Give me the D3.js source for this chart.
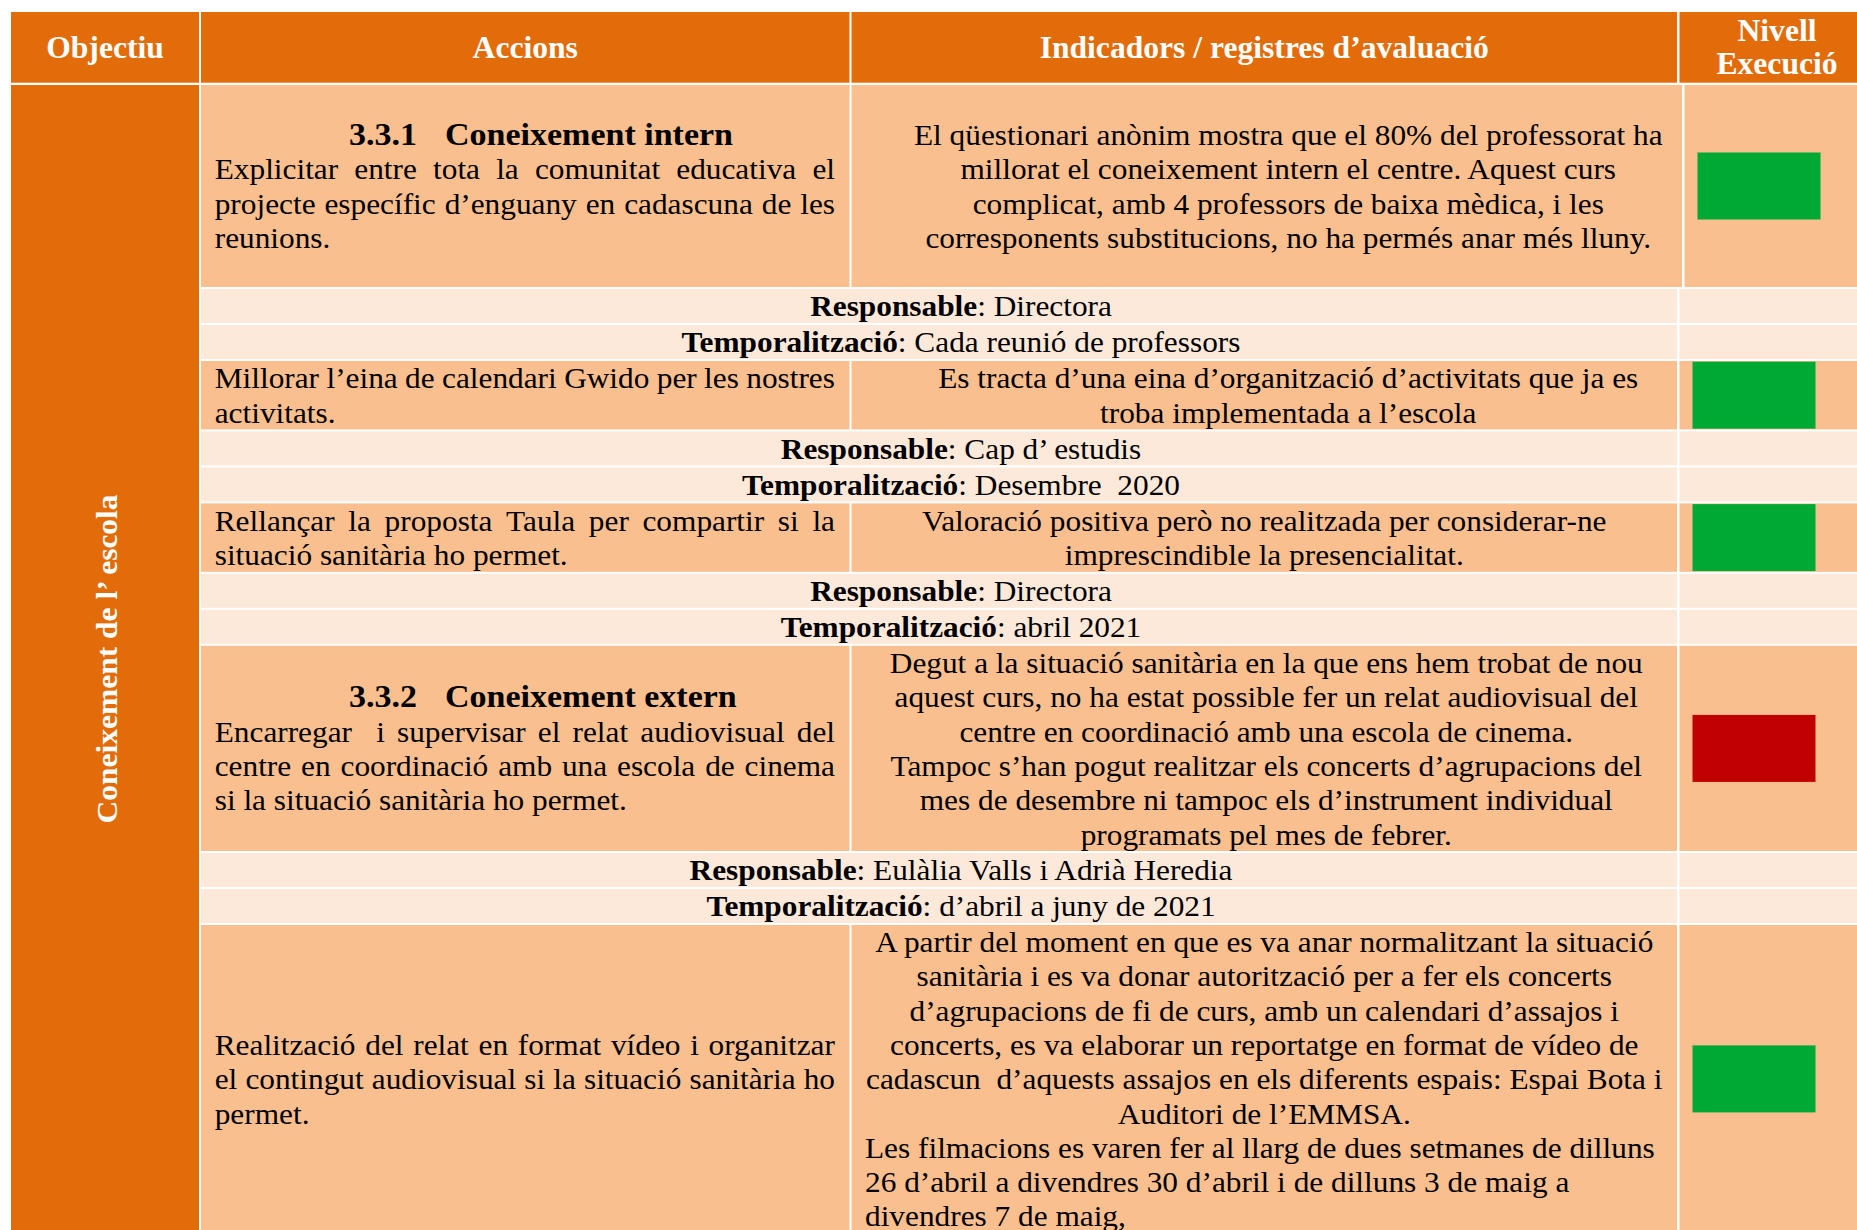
<!DOCTYPE html>
<html><head><meta charset="utf-8">
<script src="https://cdn.jsdelivr.net/npm/d3@7"></script>
<style>html,body{margin:0;padding:0;background:#fff;overflow:hidden}</style>
</head><body>
<svg id="c" width="1857" height="1230"></svg>
<script>
// ---------- DATA ----------
const headers = ["Objectiu", "Accions", "Indicadors / registres d’avaluació"];
const levelHeader = ["Nivell", "Execució"];
const objective = "Coneixement de l’ escola";
const actionNumbers = ["3.3.1", "", "", "3.3.2", ""];
const actionTitles = ["Coneixement intern", "", "", "Coneixement extern", ""];
const actionLines = [
  ["Explicitar entre tota la comunitat educativa el", "projecte específic d’enguany en cadascuna de les", "reunions."],
  ["Millorar l’eina de calendari Gwido per les nostres", "activitats."],
  ["Rellançar la proposta Taula per compartir si la", "situació sanitària ho permet."],
  ["Encarregar  i supervisar el relat audiovisual del", "centre en coordinació amb una escola de cinema", "si la situació sanitària ho permet."],
  ["Realització del relat en format vídeo i organitzar", "el contingut audiovisual si la situació sanitària ho", "permet."]
];
const indicatorLines = [
  ["El qüestionari anònim mostra que el 80% del professorat ha", "millorat el coneixement intern el centre. Aquest curs", "complicat, amb 4 professors de baixa mèdica, i les", "corresponents substitucions, no ha permés anar més lluny."],
  ["Es tracta d’una eina d’organització d’activitats que ja es", "troba implementada a l’escola"],
  ["Valoració positiva però no realitzada per considerar-ne", "imprescindible la presencialitat."],
  ["Degut a la situació sanitària en la que ens hem trobat de nou", "aquest curs, no ha estat possible fer un relat audiovisual del", "centre en coordinació amb una escola de cinema.", "Tampoc s’han pogut realitzar els concerts d’agrupacions del", "mes de desembre ni tampoc els d’instrument individual", "programats pel mes de febrer."],
  ["A partir del moment en que es va anar normalitzant la situació", "sanitària i es va donar autorització per a fer els concerts", "d’agrupacions de fi de curs, amb un calendari d’assajos i", "concerts, es va elaborar un reportatge en format de vídeo de", "cadascun  d’aquests assajos en els diferents espais: Espai Bota i", "Auditori de l’EMMSA."]
];
const indicatorLeftLines = [[], [], [], [], ["Les filmacions es varen fer al llarg de dues setmanes de dilluns", "26 d’abril a divendres 30 d’abril i de dilluns 3 de maig a", "divendres 7 de maig,"]];
const executionLevels = ["Assolit", "Assolit", "Assolit", "No assolit", "Assolit"];
const responsables = ["Directora", "Cap d’ estudis", "Directora", "Eulàlia Valls i Adrià Heredia", null];
const temporalitzacions = ["Cada reunió de professors", "Desembre  2020", "abril 2021", "d’abril a juny de 2021", null];

// ---------- LAYOUT ----------
const ORANGE = "#E36C0A", PEACH = "#F9BF8F", LIGHT = "#FCE9DA";
const levelColor = d3.scaleOrdinal().domain(["Assolit", "No assolit"]).range(["#00A933", "#C00000"]);
const FONT = "'Liberation Serif','Times New Roman',serif";
const FS = 29, K = 1.08, LH = 34.3, BASE = 27.5, GAP = 2;
const X0 = 11, C1R = 199, C2L = 201, C2R = 849.5, C3L = 851.5, C3R = 1677, C4L = 1679.5, XEND = 1876;
const headerTop = 12, headerBot = 82.7, bodyTop = 85;
const indicatorIndent = [24, 24, 0, 2, 0];
const rowShift = [5, 0, 0, 0, 0];

const svg = d3.select("#c");
svg.append("rect").attr("width", 1857).attr("height", 1230).attr("fill", "#fff");

function txt(g, str, x, y, opt = {}) {
  const t = g.append("text")
    .attr("transform", `translate(${x},${y}) scale(${opt.k || K},1)`)
    .attr("text-anchor", opt.anchor || "start")
    .attr("font-family", FONT)
    .attr("font-size", opt.size || FS)
    .attr("font-weight", opt.bold ? "bold" : "normal")
    .attr("fill", opt.fill || "#000")
    .style("white-space", "pre");
  if (Array.isArray(str)) {
    str.forEach(([s, b]) => t.append("tspan").attr("font-weight", b ? "bold" : "normal").text(s));
  } else t.text(str);
  return t;
}
function justify(g, str, x0, x1, y) {
  const words = str.split(" ");
  const tmp = g.append("text").attr("font-family", FONT).attr("font-size", FS);
  const widths = words.map(w => { if (!w) return 0; tmp.text(w); return tmp.node().getComputedTextLength() * K; });
  tmp.remove();
  const total = d3.sum(widths);
  const gap = (x1 - x0 - total) / (words.length - 1);
  let x = x0;
  words.forEach((w, i) => { if (w) txt(g, w, x, y); x += widths[i] + gap; });
}

// rows
const rows = [];
let y = bodyTop;
actionLines.forEach((lines, i) => {
  const hasHead = actionNumbers[i] !== "";
  const nAct = lines.length + (hasHead ? 1 : 0);
  const nInd = indicatorLines[i].length + indicatorLeftLines[i].length;
  const n = Math.max(nAct, nInd);
  const h = Math.max(n * 34.2, hasHead ? 202 : 0);
  rows.push({ type: "main", i, y0: y, h, nAct, nInd, hasHead });
  y += h + GAP;
  if (responsables[i]) {
    rows.push({ type: "resp", i, y0: y, h: 34 }); y += 34 + GAP;
    rows.push({ type: "temp", i, y0: y, h: 34 }); y += 34 + GAP;
  }
});
const bodyEnd = y - GAP;

// header
const hg = svg.append("g");
[[X0, C1R], [C2L, C2R], [C3L, C3R], [C4L, XEND]].forEach(([a, b]) =>
  hg.append("rect").attr("x", a).attr("y", headerTop).attr("width", b - a).attr("height", headerBot - headerTop).attr("fill", ORANGE));
const hk = 1.02, hs = 31;
txt(hg, headers[0], (X0 + C1R) / 2, 58.3, { anchor: "middle", bold: true, fill: "#fff", k: hk, size: hs });
txt(hg, headers[1], (C2L + C2R) / 2, 58.3, { anchor: "middle", bold: true, fill: "#fff", k: hk, size: hs });
txt(hg, headers[2], (C3L + C3R) / 2, 58.3, { anchor: "middle", bold: true, fill: "#fff", k: hk, size: hs });
levelHeader.forEach((s, j) => txt(hg, s, 1777, 40.7 + j * 33.3, { anchor: "middle", bold: true, fill: "#fff", k: hk, size: hs }));

// objective column
svg.append("rect").attr("x", X0).attr("y", bodyTop).attr("width", C1R - X0).attr("height", bodyEnd - bodyTop).attr("fill", ORANGE);
svg.append("text")
  .attr("transform", `translate(116.5,${(bodyTop + bodyEnd) / 2}) rotate(-90)`)
  .attr("text-anchor", "middle").attr("font-family", FONT).attr("font-size", 30).attr("font-weight", "bold")
  .attr("fill", "#fff").attr("textLength", 329).attr("lengthAdjust", "spacingAndGlyphs")
  .style("white-space", "pre").text(objective);

const bg = svg.append("g");
const tg = svg.append("g");
rows.forEach(r => {
  if (r.type === "main") {
    const c3r = C3R + rowShift[r.i], c4l = C4L + rowShift[r.i];
    bg.append("rect").attr("x", C2L).attr("y", r.y0).attr("width", C2R - C2L).attr("height", r.h).attr("fill", PEACH);
    bg.append("rect").attr("x", C3L).attr("y", r.y0).attr("width", c3r - C3L).attr("height", r.h).attr("fill", PEACH);
    bg.append("rect").attr("x", c4l).attr("y", r.y0).attr("width", XEND - c4l).attr("height", r.h).attr("fill", PEACH);
    // level mark
    bg.append("rect").attr("x", c4l + 13).attr("y", r.y0 + r.h / 2 - 33.5).attr("width", 123).attr("height", 67)
      .attr("fill", levelColor(executionLevels[r.i]));
    // actions
    let by = r.y0 + (r.h - r.nAct * LH) / 2 + BASE;
    if (r.hasHead) {
      txt(tg, actionNumbers[r.i], 349, by, { bold: true, size: 31.5 });
      txt(tg, actionTitles[r.i], 445, by, { bold: true, size: 31.5 });
      by += LH;
    }
    const al = actionLines[r.i];
    al.forEach((s, j) => {
      if (j < al.length - 1) justify(tg, s, 214.7, 835, by + j * LH);
      else txt(tg, s, 214.7, by + j * LH);
    });
    // indicators
    let iy = r.y0 + (r.h - r.nInd * LH) / 2 + BASE;
    const cx = (C3L + C3R) / 2 + indicatorIndent[r.i];
    indicatorLines[r.i].forEach((s, j) => txt(tg, s, cx, iy + j * LH, { anchor: "middle" }));
    iy += indicatorLines[r.i].length * LH;
    indicatorLeftLines[r.i].forEach((s, j) => txt(tg, s, 865, iy + j * LH));
  } else {
    bg.append("rect").attr("x", C2L).attr("y", r.y0).attr("width", C3R - C2L).attr("height", r.h).attr("fill", LIGHT);
    bg.append("rect").attr("x", C4L).attr("y", r.y0).attr("width", XEND - C4L).attr("height", r.h).attr("fill", LIGHT);
    const parts = r.type === "resp"
      ? [["Responsable", true], [": " + responsables[r.i], false]]
      : [["Temporalització", true], [": " + temporalitzacions[r.i], false]];
    txt(tg, parts, 961, r.y0 + 27.3, { anchor: "middle" });
  }
});
</script>
</body></html>
